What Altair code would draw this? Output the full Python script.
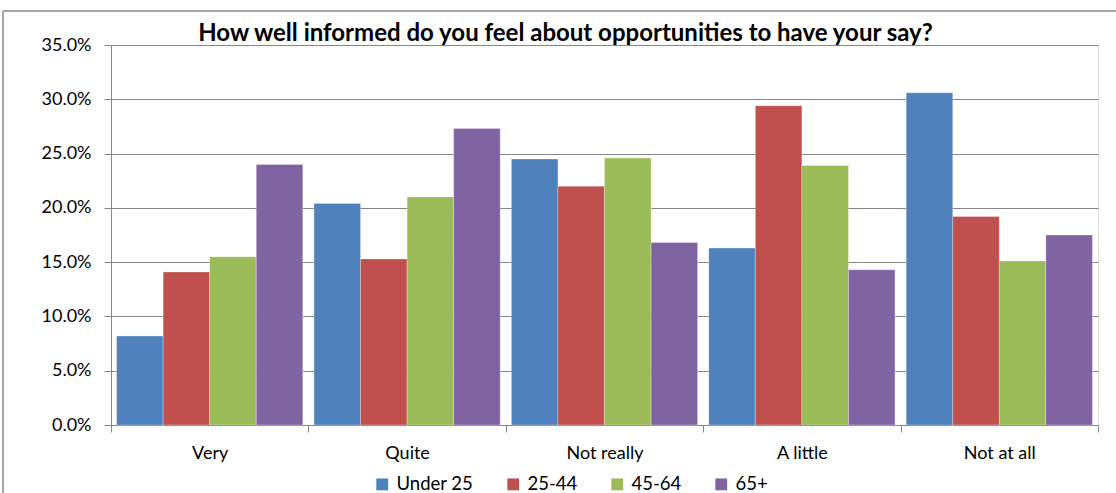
import altair as alt
import pandas as pd

categories = ["Very", "Quite", "Not really", "A little", "Not at all"]
groups = ["Under 25", "25-44", "45-64", "65+"]
under25 = [8.2, 20.4, 24.5, 16.3, 30.6]
age25_44 = [14.1, 15.3, 22.0, 29.4, 19.2]
age45_64 = [15.5, 21.0, 24.6, 23.9, 15.1]
age65 = [24.0, 27.3, 16.8, 14.3, 17.5]
colors = ["#4F81BD", "#C0504D", "#9BBB59", "#8064A2"]

series = [under25, age25_44, age45_64, age65]
rows = []
for g, vals in zip(groups, series):
    for c, v in zip(categories, vals):
        rows.append({"category": c, "group": g, "value": v / 100})
df = pd.DataFrame(rows)

FONT = "Lato"
W, H = 987, 380

bars = alt.Chart(df).mark_bar(stroke="#ffffff", strokeOpacity=0.5, strokeWidth=0.6).encode(
    x=alt.X("category:N", sort=categories, title=None,
            scale=alt.Scale(paddingInner=0, paddingOuter=0),
            axis=alt.Axis(labelAngle=0, tickBand="extent", tickSize=7, labelPadding=12,
                          labelFontSize=18, labelColor="#000000", labelFont=FONT,
                          domainColor="#878787", tickColor="#878787", grid=False)),
    xOffset=alt.XOffset("group:N", sort=groups,
                        scale=alt.Scale(paddingInner=0, paddingOuter=0.12)),
    y=alt.Y("value:Q", title=None,
            scale=alt.Scale(domain=[0, 0.35], nice=False),
            axis=alt.Axis(format=".1%", values=[0, 0.05, 0.1, 0.15, 0.2, 0.25, 0.3, 0.35],
                          tickSize=7, labelPadding=13, labelFontSize=18,
                          labelColor="#000000", labelFont=FONT,
                          domainColor="#878787", tickColor="#878787",
                          gridColor="#878787", gridWidth=1)),
    color=alt.Color("group:N", sort=groups,
                    scale=alt.Scale(domain=groups, range=colors),
                    legend=alt.Legend(title=None, orient="none", direction="horizontal",
                                      legendX=262, legendY=430, symbolType="square",
                                      symbolSize=140, symbolStrokeWidth=0,
                                      labelFontSize=18.5, labelFont=FONT, labelColor="#000000",
                                      columnPadding=30, labelOffset=5)),
)

border_df = pd.DataFrame({"k": [0]})
left_border = alt.Chart(border_df).mark_rule(color="#8c8c8c", strokeWidth=1.5).encode(
    x=alt.value(-108), y=alt.value(-34), y2=alt.value(H + 90))
top_border = alt.Chart(border_df).mark_rule(color="#8c8c8c", strokeWidth=1.5).encode(
    x=alt.value(-108), x2=alt.value(W + 40), y=alt.value(-34), y2=alt.value(-34))

chart = alt.layer(left_border, top_border, bars).properties(
    width=W, height=H,
    title=alt.TitleParams("How well informed do you feel about opportunities to have your say?",
                          font=FONT, fontSize=24, fontWeight="bold", color="#000000",
                          anchor="middle", dx=-39, dy=36, offset=0),
    autosize=alt.AutoSizeParams(type="none"),
    padding={"left": 111, "top": 45, "right": 18, "bottom": 68},
).configure_view(stroke=None).configure(background="#ffffff")

chart.save("out.html", embed_options={"renderer": "svg", "actions": False})
